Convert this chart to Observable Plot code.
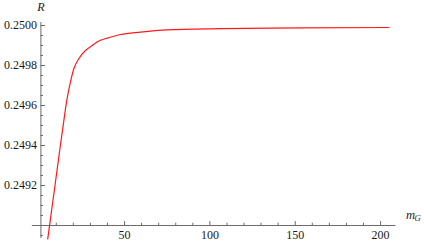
<!DOCTYPE html>
<html>
<head>
<meta charset="utf-8">
<script src="https://cdn.jsdelivr.net/npm/d3@7"></script>
<script src="https://cdn.jsdelivr.net/npm/@observablehq/plot@0.6"></script>
<style>
  html, body { margin: 0; padding: 0; background: #fff; }
  svg { display: block; }
  svg text { font-family: "Liberation Serif", "Times New Roman", serif !important; }
</style>
</head>
<body>
<div id="chart"></div>
<script>
// Data
const mG = [5.0, 9.25, 12.4, 14.1, 16.0, 18.3, 20.3, 23.2, 27.1, 31.0, 35.5, 40, 47.6, 59.3, 75, 106, 153, 205];
const R  = [0.248933, 0.2492, 0.2494, 0.249503, 0.249617, 0.249717, 0.249784, 0.249834, 0.249875, 0.2499, 0.249925, 0.249937, 0.249955, 0.249967, 0.249978, 0.249984, 0.249988, 0.24999];

const xTicks = [50, 100, 150, 200];
const xTickLabels = ["50", "100", "150", "200"];
const xMinor = [10, 20, 30, 40, 60, 70, 80, 90, 110, 120, 130, 140, 160, 170, 180, 190];
const yTicks = [0.2492, 0.2494, 0.2496, 0.2498, 0.2500];
const yTickLabels = ["0.2492", "0.2494", "0.2496", "0.2498", "0.2500"];
const yMinor = [0.24895, 0.24905, 0.2491, 0.24915, 0.24925, 0.2493, 0.24935, 0.24945, 0.2495, 0.24955, 0.24965, 0.2497, 0.24975, 0.24985, 0.2499, 0.24995];

const data = mG.map((m, i) => ({m, r: R[i]}));

const axisX0 = 0.2490;   // where the horizontal axis crosses
const axisY0 = 1;        // where the vertical axis crosses
const xExtent = [-4, 209];
const yExtent = [0.248935, 0.250015];

const axisColor = "#6b6b6b";
const textColor = "#1a1a1a";
const font = "'Liberation Serif', serif";

const chart = Plot.plot({
  width: 424,
  height: 246,
  marginLeft: 38.7,
  marginRight: 35.4,
  marginTop: 25,
  marginBottom: 21,
  style: {fontFamily: font, background: "#fff"},
  x: {domain: [0, 205], axis: null},
  y: {domain: [0.2490, 0.2500], axis: null},
  marks: [
    // axis lines
    Plot.ruleY([axisX0], {x1: xExtent[0], x2: xExtent[1], stroke: axisColor, strokeWidth: 1}),
    Plot.ruleX([axisY0], {y1: yExtent[0], y2: yExtent[1], stroke: axisColor, strokeWidth: 1}),
    // x ticks (pointing up)
    Plot.ruleX(xTicks, {y1: axisX0, y2: axisX0 + 0.00002, stroke: axisColor}),
    Plot.ruleX(xMinor, {y1: axisX0, y2: axisX0 + 0.0000115, stroke: axisColor}),
    // y ticks (pointing right)
    Plot.ruleY(yTicks, {x1: axisY0, x2: axisY0 + 2.7, stroke: axisColor}),
    Plot.ruleY(yMinor, {x1: axisY0, x2: axisY0 + 1.5, stroke: axisColor}),
    // tick labels
    Plot.text(xTicks, {x: d => d, y: axisX0, text: (d, i) => xTickLabels[i], dy: 10, fontSize: 12, fill: textColor}),
    Plot.text(yTicks, {x: axisY0, y: d => d, text: (d, i) => yTickLabels[i], dx: -4, textAnchor: "end", fontSize: 12, fill: textColor}),
    // axis labels
    Plot.text(["R"], {x: axisY0, y: yExtent[1], text: d => d, dy: -15, fontSize: 12, fontStyle: "italic", fill: textColor}),
    Plot.text(["m"], {x: xExtent[1], y: axisX0, text: d => d, dx: 10, dy: -11, textAnchor: "start", fontSize: 12.5, fontStyle: "italic", fill: textColor}),
    Plot.text(["G"], {x: xExtent[1], y: axisX0, text: d => d, dx: 18.5, dy: -7, textAnchor: "start", fontSize: 8.5, fontStyle: "italic", fill: textColor}),
    // curve
    Plot.line(data, {x: "m", y: "r", stroke: "#ff1a1a", strokeWidth: 1.2, curve: "monotone-x"})
  ]
});
document.getElementById("chart").appendChild(chart);
</script>
</body>
</html>
